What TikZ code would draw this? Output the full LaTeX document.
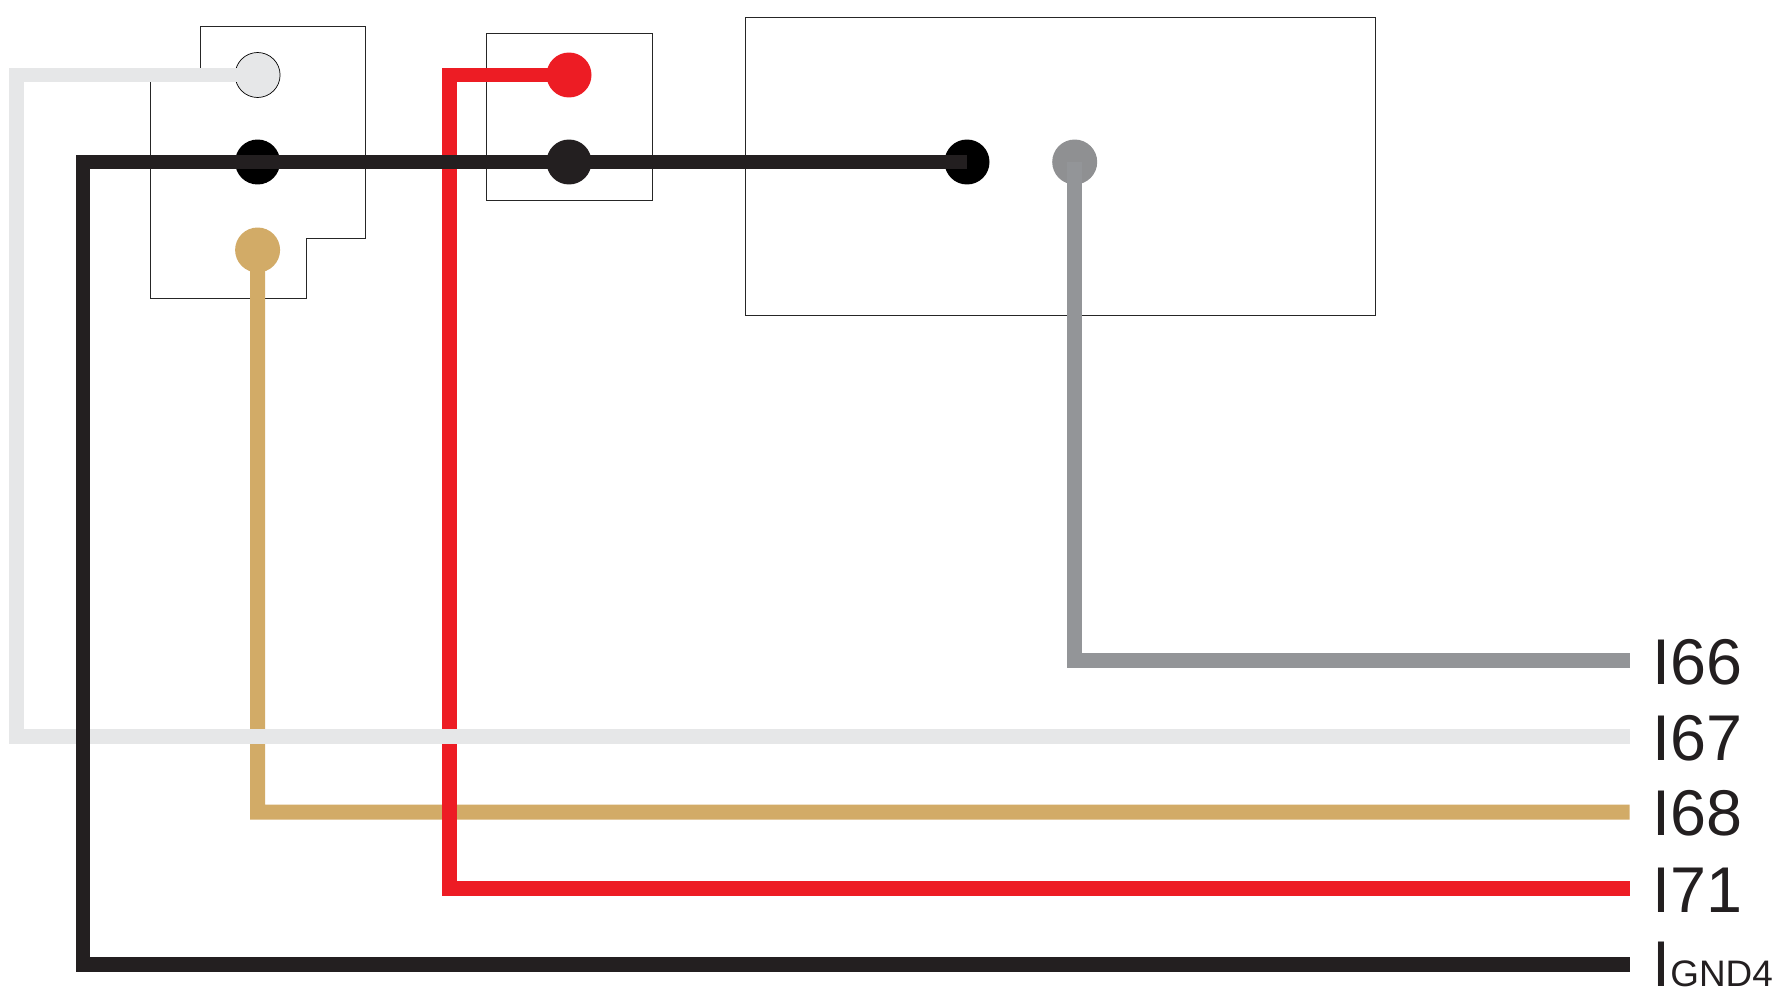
\documentclass[tikz,border=0pt]{standalone}
\usepackage{fontspec}
\setmainfont{Liberation Sans}
\definecolor{wgray}{HTML}{939598}
\definecolor{pgray}{HTML}{8F9092}
\definecolor{wlight}{HTML}{E6E7E8}
\definecolor{wtan}{HTML}{D2AB67}
\definecolor{wred}{HTML}{ED1C24}
\definecolor{wblack}{HTML}{231F20}
\tikzset{%
  housing/.style = { draw=black!85, line width=0.5pt },
  box/.style = { housing, rectangle, inner sep=0pt, outer sep=0pt },
  pin/.style = { circle, inner sep=0pt, outer sep=0pt, minimum size=0.9cm },
  wire/.style = { line width=0.3cm, miter limit=10 },
  chlabel/.style = { anchor=base west, inner sep=0pt, text=wblack, font=\fontsize{36.8}{40}\selectfont }
}
\newcommand{\gndsub}[1]{{\fontsize{21}{24}\selectfont #1}}

\begin{document}
\begin{tikzpicture}[x=0.02cm, y=-0.02cm]

  \useasboundingbox (0,0) rectangle (1778,997);

  % Housings
  \draw[housing] (200,26.2) -- (365,26.2) -- (365,238) -- (306,238) -- (306,298) -- (150.5,298) -- (150.5,75) -- (200,75) -- cycle;
  \node[box, minimum width=3.32cm, minimum height=3.33cm] (box2) at (569,116.8) {};
  \node[box, minimum width=12.61cm, minimum height=5.97cm] (box3) at (1060.2,166.7) {};

  % Pins
  \node[pin, fill=wlight, draw=black, line width=0.4pt] (plight) at (257.6,75) {};
  \node[pin, fill=black] (pblacka) at (257.6,162) {};
  \node[pin, fill=wtan] (ptan) at (257.6,250) {};
  \node[pin, fill=wred] (pred) at (569,75) {};
  \node[pin, fill=wblack] (pblackb) at (569,162) {};
  \node[pin, fill=black] (pblackc) at (967,162) {};
  \node[pin, fill=pgray] (pgray) at (1074.7,162) {};

  % Channel ends and labels
  \foreach \chname/\ywire/\ybase/\chtext in {66/660.8/684/I66,67/736.7/760/I67,68/812.2/835/I68,71/888.5/912/I71,gnd/964.3/986.7/I\gndsub{GND4}} {
    \coordinate (end\chname) at (1629.5,\ywire);
    \node[chlabel] (lab\chname) at (1652,\ybase) {\chtext};
  }

  % Corners
  \coordinate (ctan) at (257.5,812.2);
  \coordinate (credt) at (449.5,75);
  \coordinate (credb) at (449.5,888.5);
  \coordinate (clightt) at (16.5,75);
  \coordinate (clightb) at (16.5,736.7);
  \coordinate (cblackt) at (83,162);
  \coordinate (cblackb) at (83,964.3);
  \coordinate (cgray) at (1074.7,660.8);

  % Wires
  \draw[wire, wtan] (ptan.center) -- (ctan) -- (end68);
  \draw[wire, wred] (pred.center) -- (credt) -- (credb) -- (end71);
  \draw[wire, wlight] (plight.center) -- (clightt) -- (clightb) -- (end67);
  \draw[wire, wblack] (pblackc.center) -- (cblackt) -- (cblackb) -- (endgnd);
  \draw[wire, wgray] (pgray.center) -- (cgray) -- (end66);

\end{tikzpicture}
\end{document}
